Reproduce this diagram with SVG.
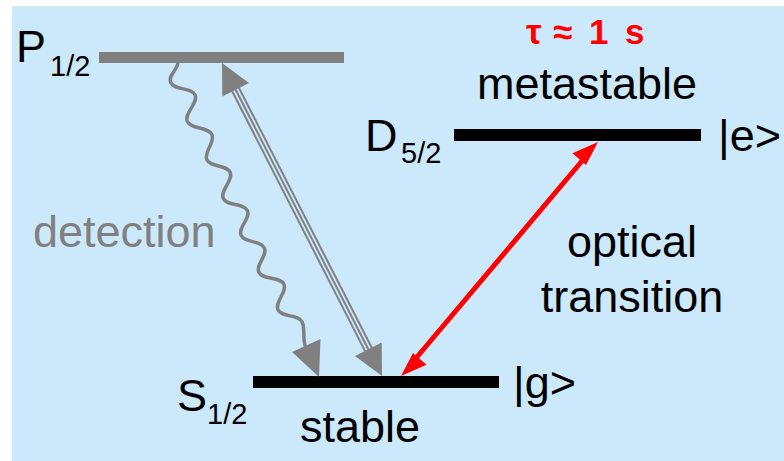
<svg xmlns="http://www.w3.org/2000/svg" width="784" height="461" viewBox="0 0 784 461">
<style>
.lbl{font-family:"Liberation Sans",Arial,sans-serif;font-size:45px;fill:#000}
.sub{font-family:"Liberation Sans",Arial,sans-serif;font-size:29px;fill:#000}
.gray{fill:#808080}
.mid{text-anchor:middle}
.tau{font-family:"Liberation Sans",Arial,sans-serif;font-size:35px;font-weight:bold;fill:#ff0000}
.ghead{fill:#808080}
.rhead{fill:#ff0000}
</style>
<rect x="12" y="6" width="772" height="455" fill="#cce9fb"/>
<g id="level-P">
<rect x="99" y="52" width="245" height="11" fill="#808080"/>
<text class="lbl" x="16" y="62">P</text>
<text class="sub" x="50" y="76">1/2</text>
</g>
<g id="level-D">
<rect x="454" y="129" width="247" height="12" fill="#000"/>
<text class="lbl" x="365" y="151">D</text>
<text class="sub" x="401" y="163">5/2</text>
<text class="lbl" x="718" y="151">|e&gt;</text>
<text class="lbl mid" x="587" y="99">metastable</text>
<text class="tau" x="526" y="44">τ</text>
<text class="tau" x="553" y="44">≈</text>
<text class="tau" x="589" y="44">1</text>
<text class="tau" x="625" y="44">s</text>
</g>
<g id="level-S">
<rect x="253" y="376" width="246" height="12" fill="#000"/>
<text class="lbl" x="177" y="411">S</text>
<text class="sub" x="207" y="424">1/2</text>
<text class="lbl" x="513" y="398">|g&gt;</text>
<text class="lbl mid" x="360" y="442">stable</text>
</g>
<g id="labels">
<text class="lbl gray" x="33" y="247">detection</text>
<text class="lbl mid" x="632" y="257">optical</text>
<text class="lbl mid" x="632" y="312">transition</text>
</g>
<g id="connectors">
<path d="M178,62 C178,70 167.4,75.1 170.9,82.8 S191.6,87.2 195.1,94.9 S183.8,113.7 187.3,121.4 S208.4,126.8 211.9,134.5 S203.4,152.1 206.9,159.8 S226.6,164.6 230.1,172.3 S219.8,190.8 223.3,198.5 S243.9,202.9 247.4,210.6 S237.6,227.7 241.1,235.4 S260.8,240.2 264.3,247.9 S255.4,264.6 258.9,272.3 S280.4,276.4 283.9,284.1 S274.5,302.1 278,309.8 S298.6,314.2 302.1,321.9 S302.1,338.9 305.6,346.6" fill="none" stroke="#808080" stroke-width="3.5"/>
<polygon class="ghead" points="319,377 320.5,339 292,352"/>
<g fill="none">
<path d="M231.1,80.8 L372.9,358.2" stroke="#808080" stroke-width="9.5"/>
<path d="M231.1,80.8 L372.9,358.2" stroke="#cce9fb" stroke-width="5.5"/>
<path d="M231.1,80.8 L372.9,358.2" stroke="#808080" stroke-width="2"/>
</g>
<polygon class="ghead" points="222,63 249,82.9 222.3,96.5"/>
<polygon class="ghead" points="382,376 381.7,342.5 355,356.1"/>
<path d="M588.3,153.5 L410.7,364.5" fill="none" stroke="#ff0000" stroke-width="5"/>
<polygon class="rhead" points="598,142 586,165 572.5,153.3"/>
<polygon class="rhead" points="401,376 413,353 426.5,364.7"/>
</g>
</svg>
